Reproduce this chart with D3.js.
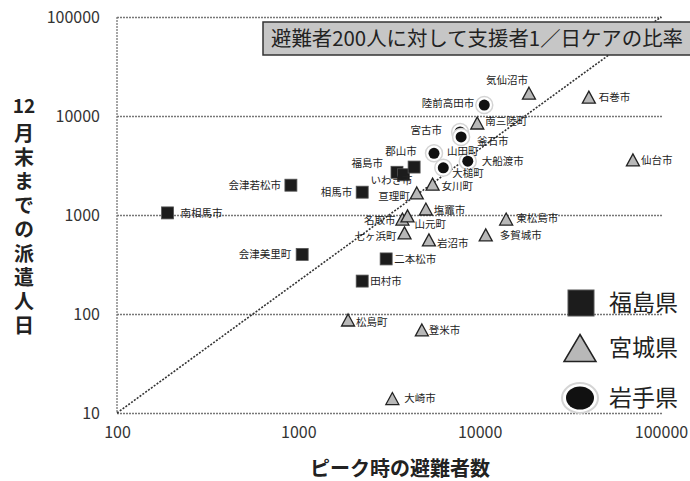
<!DOCTYPE html>
<html>
<head>
<meta charset="utf-8">
<script src="https://cdn.jsdelivr.net/npm/d3@7"></script>
<style>
  body { margin: 0; background: #fff; }
  text { font-family: "Noto Sans CJK JP", sans-serif; }
</style>
</head>
<body>
<div id="chart"></div>
<script>
// ピーク時の避難者数 (x) と 12月末までの派遣人日 (y)
var fukushimaNames = ["南相馬市", "会津若松市", "相馬市", "会津美里町", "二本松市", "田村市", "福島市", "いわき市", "郡山市"];
var fukushimaX     = [190, 910, 2250, 1050, 3050, 2250, 3500, 3800, 4350];
var fukushimaY     = [1050, 2000, 1700, 400, 360, 215, 2700, 2550, 3050];

var miyagiNames = ["気仙沼市", "石巻市", "南三陸町", "仙台市", "女川町", "亘理町", "塩竈市", "名取市", "山元町",
                   "七ヶ浜町", "岩沼市", "東松島市", "多賀城市", "松島町", "登米市", "大崎市"];
var miyagiX     = [18700, 40000, 9700, 70000, 5500, 4500, 5050, 3750, 4000, 3850, 5250, 14000, 10800, 1880, 4800, 3300];
var miyagiY     = [17000, 15500, 8500, 3600, 2050, 1670, 1150, 910, 980, 660, 560, 910, 630, 87, 69, 14];

var iwateNames = ["陸前高田市", "宮古市", "釜石市", "山田町", "大船渡市", "大槌町"];
var iwateX     = [10600, 7800, 7900, 5600, 8600, 6300];
var iwateY     = [12900, 6900, 6150, 4200, 3500, 3000];

var prefNames = ["福島県", "宮城県", "岩手県"];
var xTicks = [100, 1000, 10000, 100000];
var yTicks = [10, 100, 1000, 10000, 100000];
var ratioLine = [[100, 10], [100000, 100000]];   // 避難者200人に対して支援者1／日ケア
var titleText = "避難者200人に対して支援者1／日ケアの比率";
var xTitle = "ピーク時の避難者数";
var yTitleNum = "12";
var yTitle = "月末までの派遣人日";

// ラベルの置き場所 [dx, dy, anchor]
var labelAt = {
  "南相馬市": [13, 0, "start"], "会津若松市": [-10, 0, "end"], "相馬市": [-10, 0, "end"],
  "会津美里町": [-11, 0, "end"], "二本松市": [8, 0, "start"], "田村市": [8, 0, "start"],
  "福島市": [-14, -9, "end"], "いわき市": [-12, 5, "middle"], "郡山市": [-13, -16, "middle"],
  "気仙沼市": [-22, -13, "middle"], "石巻市": [10, 0, "start"], "南三陸町": [8, -2, "start"],
  "仙台市": [8, 0, "start"], "女川町": [9, 2, "start"], "亘理町": [-7, 3, "end"],
  "塩竈市": [8, 1, "start"], "名取市": [-7, 1, "end"], "山元町": [7, 8, "start"],
  "七ヶ浜町": [-8, 3, "end"], "岩沼市": [8, 3, "start"], "東松島市": [10, -1, "start"],
  "多賀城市": [14, 0, "start"], "松島町": [8, 2, "start"], "登米市": [7, 0, "start"],
  "大崎市": [12, 0, "start"], "陸前高田市": [-10, -2, "end"], "宮古市": [-18, -2, "end"],
  "釜石市": [16, 4, "start"], "山田町": [13, -2, "start"], "大船渡市": [14, 0, "start"],
  "大槌町": [9, 5, "start"]
};

function zipPoints(names, xs, ys) {
  return names.map(function(n, i) { return {name: n, x: xs[i], y: ys[i]}; });
}

var width = 690, height = 481;
var x = d3.scaleLog().domain([100, 100000]).range([117, 661]);
var y = d3.scaleLog().domain([10, 100000]).range([413, 17]);

var svg = d3.select("#chart").append("svg")
    .attr("width", width)
    .attr("height", height);

// grid + y axis
var yAxis = svg.append("g")
    .attr("class", "y axis")
    .attr("transform", "translate(117,0)")
    .call(d3.axisLeft(y).tickValues(yTicks).tickFormat(d3.format("d")).tickSize(-546).tickPadding(17));
yAxis.select(".domain").remove();
yAxis.selectAll("line").attr("stroke", "#777").attr("stroke-dasharray", "2,1").attr("stroke-width", 1.3);
yAxis.selectAll("text").attr("font-family", "Liberation Sans, Arial, sans-serif").attr("font-size", 16).attr("fill", "#333");

svg.append("line")
    .attr("x1", 117).attr("x2", 117)
    .attr("y1", y(100000)).attr("y2", y(10))
    .attr("stroke", "#777").attr("stroke-dasharray", "2,1").attr("stroke-width", 1.3);

var xAxis = svg.append("g")
    .attr("class", "x axis")
    .attr("transform", "translate(0,413)")
    .call(d3.axisBottom(x).tickValues(xTicks).tickFormat(d3.format("d")).tickSize(0).tickPadding(14));
xAxis.select(".domain").remove();
xAxis.selectAll("text").attr("font-family", "Liberation Sans, Arial, sans-serif").attr("font-size", 16).attr("fill", "#333");

// 比率の線
svg.append("path")
    .datum(ratioLine)
    .attr("d", d3.line().x(function(d) { return x(d[0]); }).y(function(d) { return y(d[1]); }))
    .attr("fill", "none")
    .attr("stroke", "#333")
    .attr("stroke-width", 1.6)
    .attr("stroke-dasharray", "2,1.5");

var fukushima = zipPoints(fukushimaNames, fukushimaX, fukushimaY);
var miyagi = zipPoints(miyagiNames, miyagiX, miyagiY);
var iwate = zipPoints(iwateNames, iwateX, iwateY);

function tri(cx, cy, w, h) {
  return "M" + cx + "," + (cy - h / 2) + "L" + (cx + w / 2) + "," + (cy + h / 2) + "L" + (cx - w / 2) + "," + (cy + h / 2) + "Z";
}

// 福島県
svg.append("g").selectAll("rect")
    .data(fukushima)
    .enter().append("rect")
    .attr("x", function(d) { return x(d.x) - 6; })
    .attr("y", function(d) { return y(d.y) - 6; })
    .attr("width", 12).attr("height", 12)
    .attr("fill", "#1c1c1c")
    .attr("stroke", "#555").attr("stroke-width", 0.8);

// 宮城県
svg.append("g").selectAll("path")
    .data(miyagi)
    .enter().append("path")
    .attr("d", function(d) { return tri(x(d.x), y(d.y), 13, 12); })
    .attr("fill", "#b8b8b8")
    .attr("stroke", "#222").attr("stroke-width", 1.3);

// 岩手県
var iw = svg.append("g").selectAll("g")
    .data(iwate)
    .enter().append("g")
    .attr("transform", function(d) { return "translate(" + x(d.x) + "," + y(d.y) + ")"; });
iw.append("circle").attr("r", 8.5).attr("fill", "#fff").attr("stroke", "#d4d4d4").attr("stroke-width", 1.5);
iw.append("circle").attr("r", 5.5).attr("fill", "#111");

// ラベル
svg.append("g").selectAll("text")
    .data(fukushima.concat(miyagi, iwate))
    .enter().append("text")
    .attr("x", function(d) { return x(d.x) + labelAt[d.name][0]; })
    .attr("y", function(d) { return y(d.y) + labelAt[d.name][1]; })
    .attr("dy", "0.36em")
    .attr("text-anchor", function(d) { return labelAt[d.name][2]; })
    .attr("font-size", 10.5)
    .attr("fill", "#222")
    .text(function(d) { return d.name; });

// タイトルの箱
svg.append("rect")
    .attr("x", 263).attr("y", 22)
    .attr("width", 440).attr("height", 33)
    .attr("fill", "#c6c6c6")
    .attr("stroke", "#333").attr("stroke-width", 1.5);
svg.append("text")
    .attr("x", 271).attr("y", 39)
    .attr("dy", "0.36em")
    .attr("font-size", 20)
    .attr("textLength", 412)
    .attr("lengthAdjust", "spacingAndGlyphs")
    .attr("fill", "#222")
    .text(titleText);

// 軸タイトル
svg.append("text")
    .attr("x", 400).attr("y", 469)
    .attr("dy", "0.36em")
    .attr("text-anchor", "middle")
    .attr("font-size", 20)
    .attr("font-weight", "bold")
    .attr("fill", "#222")
    .text(xTitle);

svg.append("text")
    .attr("x", 24).attr("y", 106)
    .attr("dy", "0.36em")
    .attr("text-anchor", "middle")
    .attr("font-size", 19)
    .attr("font-weight", "bold")
    .attr("fill", "#222")
    .text(yTitleNum);

svg.append("text")
    .attr("x", 24).attr("y", 123)
    .style("writing-mode", "vertical-rl")
    .style("letter-spacing", "4px")
    .attr("font-size", 20)
    .attr("font-weight", "bold")
    .attr("fill", "#222")
    .text(yTitle);

// 凡例
var legend = svg.append("g").attr("class", "legend");
var ly = [303, 348, 398];
legend.append("rect")
    .attr("x", 568).attr("y", ly[0] - 13)
    .attr("width", 26).attr("height", 26)
    .attr("fill", "#1c1c1c").attr("stroke", "#555");
legend.append("path")
    .attr("d", tri(580, ly[1], 32, 27))
    .attr("fill", "#b8b8b8").attr("stroke", "#222").attr("stroke-width", 1.5);
legend.append("ellipse")
    .attr("cx", 580).attr("cy", ly[2]).attr("rx", 18).attr("ry", 15)
    .attr("fill", "#fff").attr("stroke", "#d4d4d4").attr("stroke-width", 2);
legend.append("ellipse")
    .attr("cx", 580).attr("cy", ly[2]).attr("rx", 14).attr("ry", 11.5)
    .attr("fill", "#111");
legend.selectAll("text")
    .data(prefNames)
    .enter().append("text")
    .attr("x", 609)
    .attr("y", function(d, i) { return ly[i]; })
    .attr("dy", "0.36em")
    .attr("font-size", 23)
    .attr("fill", "#222")
    .text(function(d) { return d; });
</script>
</body>
</html>
